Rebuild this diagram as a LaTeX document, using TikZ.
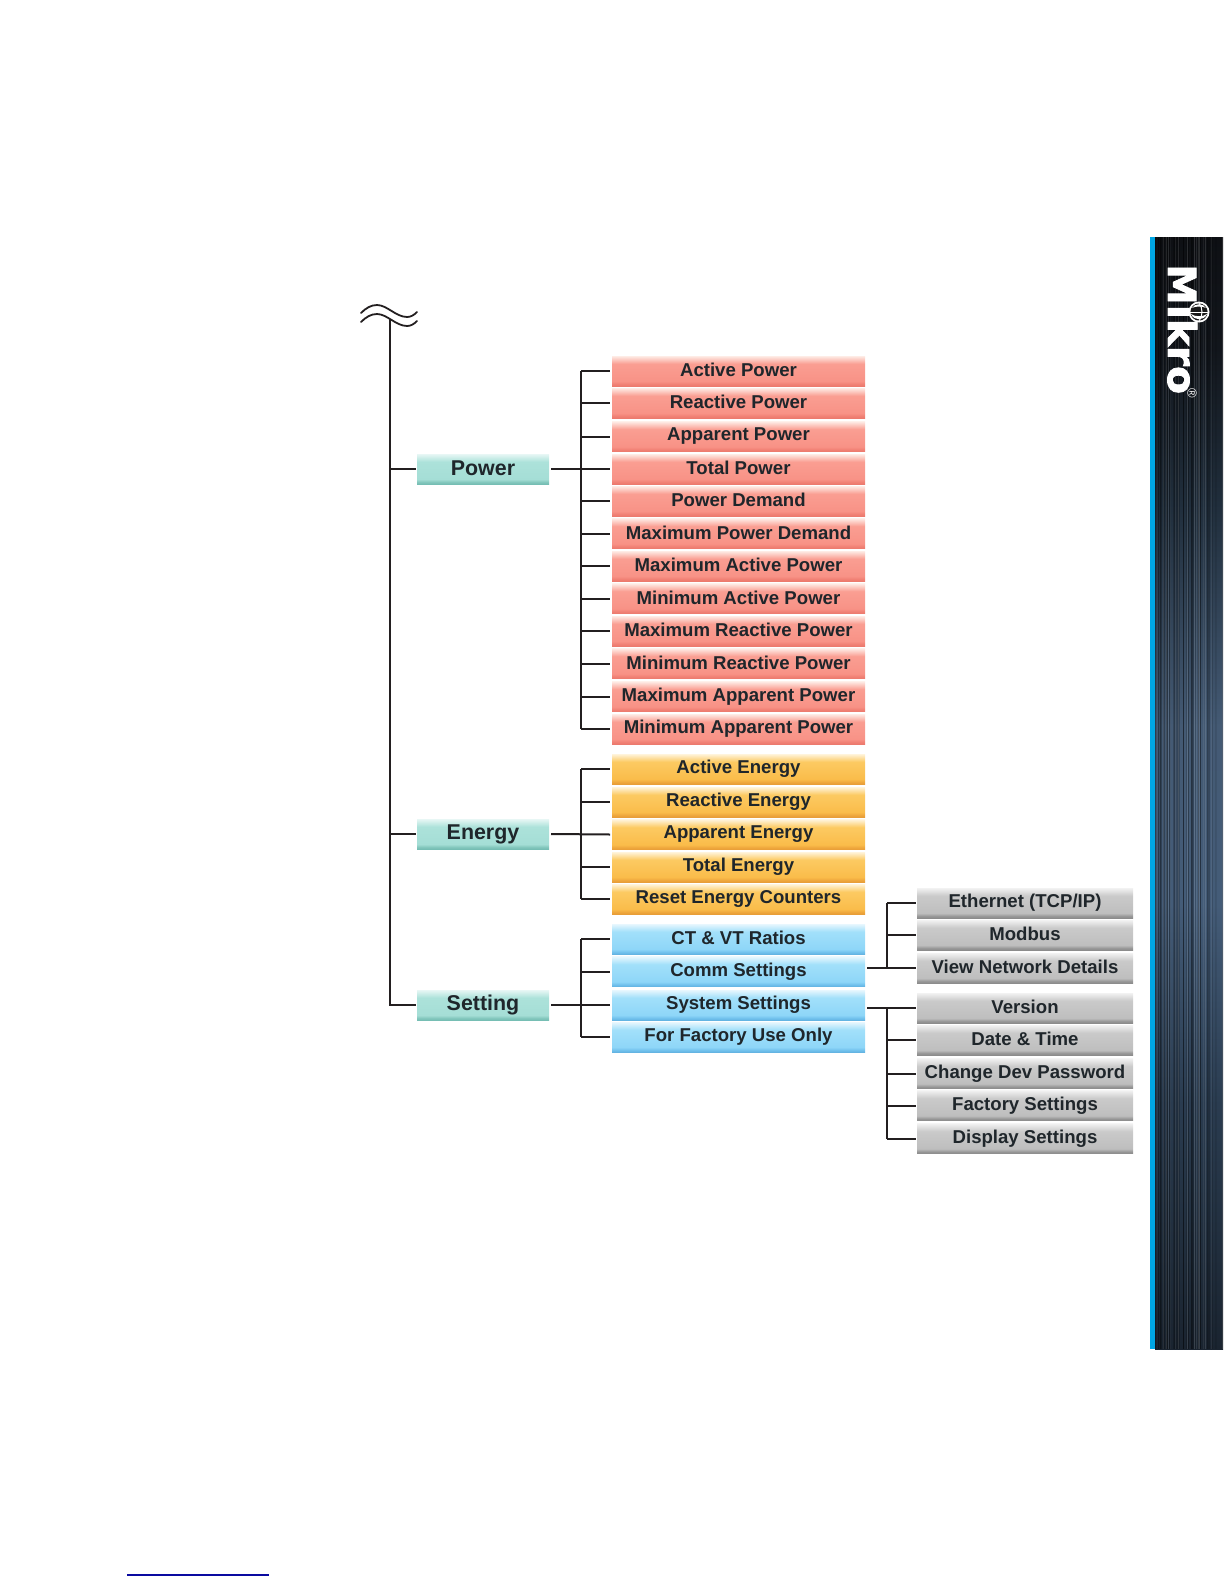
\documentclass[tikz,border=0pt]{standalone}
\usepackage{fontspec}
\setmainfont{Liberation Sans}
\newfontfamily\logofont[BoldFeatures={FakeBold=2.2,FakeStretch=1.06}]{DejaVu Sans}
\usetikzlibrary{calc}
\definecolor{ink}{HTML}{1F262B}
\definecolor{wire}{HTML}{231F20}
\pgfdeclareverticalshading{redshade}{100bp}{color(0bp)=(white);color(25bp)=(rgb,255:red,236;green,122;blue,110);color(28bp)=(rgb,255:red,240;green,128;blue,116);color(33bp)=(rgb,255:red,248;green,146;blue,134);color(62bp)=(rgb,255:red,250;green,158;blue,146);color(75bp)=(rgb,255:red,254;green,236;blue,230);color(100bp)=(white)}
\pgfdeclareverticalshading{orangeshade}{100bp}{color(0bp)=(white);color(25bp)=(rgb,255:red,232;green,158;blue,56);color(28bp)=(rgb,255:red,238;green,166;blue,60);color(33bp)=(rgb,255:red,250;green,188;blue,74);color(62bp)=(rgb,255:red,252;green,202;blue,98);color(75bp)=(rgb,255:red,255;green,244;blue,220);color(100bp)=(white)}
\pgfdeclareverticalshading{blueshade}{100bp}{color(0bp)=(white);color(25bp)=(rgb,255:red,100;green,180;blue,226);color(28bp)=(rgb,255:red,112;green,192;blue,236);color(33bp)=(rgb,255:red,142;green,214;blue,248);color(62bp)=(rgb,255:red,162;green,224;blue,250);color(75bp)=(rgb,255:red,232;green,247;blue,254);color(100bp)=(white)}
\pgfdeclareverticalshading{grayshade}{100bp}{color(0bp)=(white);color(25bp)=(rgb,255:red,140;green,140;blue,140);color(28bp)=(rgb,255:red,150;green,150;blue,150);color(33bp)=(rgb,255:red,190;green,190;blue,190);color(62bp)=(rgb,255:red,202;green,202;blue,202);color(75bp)=(rgb,255:red,242;green,242;blue,242);color(100bp)=(white)}
\pgfdeclareverticalshading{greenshade}{100bp}{color(0bp)=(white);color(25bp)=(rgb,255:red,118;green,190;blue,180);color(28bp)=(rgb,255:red,130;green,198;blue,188);color(33bp)=(rgb,255:red,165;green,222;blue,214);color(62bp)=(rgb,255:red,172;green,226;blue,218);color(75bp)=(rgb,255:red,232;green,247;blue,245);color(100bp)=(white)}
\pgfdeclareverticalshading{barshade}{100bp}{color(0bp)=(rgb,255:red,26;green,36;blue,48);color(25bp)=(rgb,255:red,26;green,36;blue,48);color(36bp)=(rgb,255:red,42;green,60;blue,80);color(45bp)=(rgb,255:red,68;green,92;blue,120);color(53bp)=(rgb,255:red,68;green,90;blue,116);color(63bp)=(rgb,255:red,32;green,46;blue,60);color(70bp)=(rgb,255:red,18;green,22;blue,28);color(75bp)=(rgb,255:red,14;green,16;blue,20);color(100bp)=(rgb,255:red,14;green,16;blue,20)}
\tikzset{
  x=1pt,y=-1pt,
  boxbase/.style={inner sep=0pt,outer sep=0pt,font=\bfseries\fontsize{18.6}{19}\selectfont,text=ink,anchor=center},
  redbox/.style={boxbase,minimum width=253pt,minimum height=30pt,shading=redshade},
  orangebox/.style={boxbase,minimum width=253pt,minimum height=30pt,shading=orangeshade},
  bluebox/.style={boxbase,minimum width=253pt,minimum height=30pt,shading=blueshade},
  graybox/.style={boxbase,minimum width=216pt,minimum height=30pt,shading=grayshade},
  greenbox/.style={boxbase,minimum width=132pt,minimum height=30pt,shading=greenshade,font=\bfseries\fontsize{21.4}{23}\selectfont},
  wireline/.style={draw=wire,line width=2pt},
  squig/.style={draw=wire,line width=1.8pt,line cap=round},
}
\newcommand{\lbl}[1]{\raisebox{2pt}{#1}}
\begin{document}
\begin{tikzpicture}
\useasboundingbox (0,0) rectangle (1224,1584);
% sidebar
\fill[shading=barshade] (1155,237) rectangle (1223,1349);
\begin{scope}
\clip (1155,237) rectangle (1223,1349);
\pgfmathsetseed{4242}
\foreach \i in {1,...,36}{
  \pgfmathsetmacro{\xx}{1155+rnd*68}
  \pgfmathsetmacro{\ww}{0.6+rnd*1.6}
  \pgfmathsetmacro{\oo}{0.08+rnd*0.25}
  \draw[black,line width=\ww pt,opacity=\oo] (\xx,237) -- (\xx,1349);
}
\foreach \i in {1,...,16}{
  \pgfmathsetmacro{\xx}{1155+rnd*68}
  \pgfmathsetmacro{\oo}{0.04+rnd*0.1}
  \draw[white,line width=0.9pt,opacity=\oo] (\xx,237) -- (\xx,1349);
}
\end{scope}
\fill[fill={rgb,255:red,0;green,166;blue,228}] (1150,237) rectangle (1155,1349);
% logo
\node[text=white,font=\logofont\bfseries\fontsize{38.5}{40}\selectfont,rotate=-90,inner sep=0pt,anchor=base west] (logo) at (1168,264) {Mikro};
\fill[white] (1199,312) circle (10.5pt);
\fill[black!90] (1199,312) circle (8.6pt);
\fill[white] (1191,314) .. controls (1194,321) and (1204,321) .. (1207,314) .. controls (1203,317) and (1195,317) .. (1191,314) -- cycle;
\fill[white] (1192,308) .. controls (1195,303) and (1203,303) .. (1206,308) .. controls (1202,306) and (1196,306) .. (1192,308) -- cycle;
\draw[white,line width=1pt] (1190,312) -- (1208,312);
\draw[white,line width=1pt] (1199,303) .. controls (1203,308) and (1203,316) .. (1199,321);
\node[text=white,font=\fontsize{13}{13}\selectfont,rotate=-90,inner sep=0pt] (reg) at (1192,393) {®};
% trunk squiggles
\draw[squig] (361,313) .. controls (366,308) and (371,305) .. (377,305) .. controls (387,305) and (396,317) .. (407,317) .. controls (411,317) and (414,315) .. (417,312);
\draw[squig] (361,322) .. controls (366,317) and (371,314) .. (377,314) .. controls (387,314) and (396,326) .. (407,326) .. controls (411,326) and (414,324) .. (417,321);
\coordinate (trunktop) at (390,319);
% group nodes
\node[greenbox] (power) at (483,469) {\lbl{Power}};
\node[greenbox] (energy) at (483,834) {\lbl{Energy}};
\node[greenbox] (setting) at (483,1005) {\lbl{Setting}};
% power list
\foreach \n/\y/\t in {1/371/Active Power,2/403/Reactive Power,3/436.5/Apparent Power,4/469/Total Power,5/501/Power Demand,6/533.5/Maximum Power Demand,7/566/Maximum Active Power,8/598.5/Minimum Active Power,9/631/Maximum Reactive Power,10/663.5/Minimum Reactive Power,11/696.5/Maximum Apparent Power,12/729/Minimum Apparent Power}{
  \node[redbox] (p\n) at (738.5,\y) {\lbl{\t}};
}
\foreach \n/\y/\t in {1/769/Active Energy,2/802/Reactive Energy,3/834.5/Apparent Energy,4/867/Total Energy,5/899/Reset Energy Counters}{
  \node[orangebox] (e\n) at (738.5,\y) {\lbl{\t}};
}
\foreach \n/\y/\t in {1/939/CT \& VT Ratios,2/971.5/Comm Settings,3/1005/System Settings,4/1037/For Factory Use Only}{
  \node[bluebox] (s\n) at (738.5,\y) {\lbl{\t}};
}
\foreach \n/\y/\t in {1/903/{Ethernet (TCP/IP)},2/935/Modbus,3/968/View Network Details}{
  \node[graybox] (n\n) at (1025,\y) {\lbl{\t}};
}
\foreach \n/\y/\t in {1/1008/Version,2/1040/Date \& Time,3/1073.5/Change Dev Password,4/1105.5/Factory Settings,5/1138.5/Display Settings}{
  \node[graybox] (d\n) at (1025,\y) {\lbl{\t}};
}
% trunk connectors
\draw[wireline] (trunktop) -- (trunktop |- setting.west) -- ([xshift=-1pt]setting.west);
\foreach \g in {power,energy}{ \draw[wireline] (trunktop |- \g.west) -- ([xshift=-1pt]\g.west); }
% brackets
\coordinate (bxa) at (581,0);
\coordinate (bxb) at (887,0);
\coordinate (jna) at (867,0);
\draw[wireline] (bxa |- p1.west) -- (bxa |- p12.west);
\draw[wireline] ([xshift=2pt]power.east) -- ([xshift=-2pt]p4.west);
\foreach \n in {1,2,3,5,6,7,8,9,10,11,12}{ \draw[wireline] (bxa |- p\n.west) -- ([xshift=-2pt]p\n.west); }
\draw[wireline] (bxa |- e1.west) -- (bxa |- e5.west);
\draw[wireline] ([xshift=2pt]energy.east) -- ([xshift=-2pt]e3.west);
\foreach \n in {1,2,4,5}{ \draw[wireline] (bxa |- e\n.west) -- ([xshift=-2pt]e\n.west); }
\draw[wireline] (bxa |- s1.west) -- (bxa |- s4.west);
\draw[wireline] ([xshift=2pt]setting.east) -- ([xshift=-2pt]s3.west);
\foreach \n in {1,2,4}{ \draw[wireline] (bxa |- s\n.west) -- ([xshift=-2pt]s\n.west); }
\draw[wireline] (bxb |- n1.west) -- (bxb |- n3.west);
\draw[wireline] (jna |- n3.west) -- ([xshift=-1pt]n3.west);
\foreach \n in {1,2}{ \draw[wireline] (bxb |- n\n.west) -- ([xshift=-1pt]n\n.west); }
\draw[wireline] (bxb |- d1.west) -- (bxb |- d5.west);
\draw[wireline] (jna |- d1.west) -- ([xshift=-1pt]d1.west);
\foreach \n in {2,3,4,5}{ \draw[wireline] (bxb |- d\n.west) -- ([xshift=-1pt]d\n.west); }
% bottom rule
\coordinate (ra) at (127,1575);
\coordinate (rb) at (269,1575);
\draw[draw={rgb,255:red,10;green,10;blue,160},line width=1.2pt] (ra) -- (rb);
\end{tikzpicture}
\end{document}
